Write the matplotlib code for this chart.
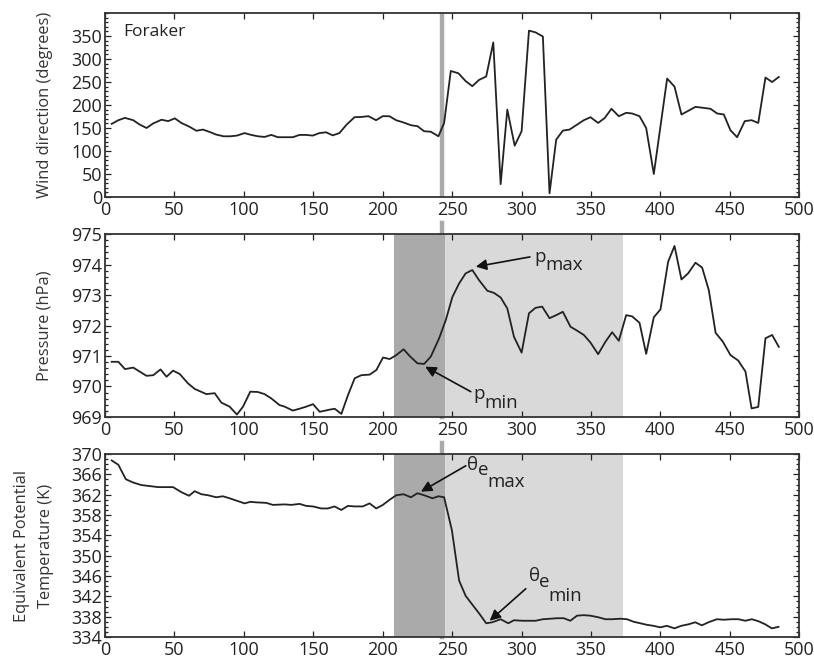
import numpy as np
from matplotlib import pyplot as plt

plt.rcParams['font.family'] = ['Open Sans', 'DejaVu Sans']

# wind direction (degrees)
wd_x = [4.8, 9.6, 14.4, 20.3, 25, 29.9, 34.7, 40.7, 45.5, 50.3, 55, 61, 65.8, 70.5, 75.3, 80.1,
        85.4, 90.2, 95, 100.5, 105.3, 110.1, 114.9, 119.7, 124.5, 130.5, 135.3, 140, 144.8, 149.6,
        154.4, 159.2, 164, 168.8, 174, 179.7, 184.4, 189.7, 195.2, 200, 204.8, 209.6, 214.4, 220.4,
        225, 229.8, 234.6, 240.1, 244.2, 249, 254.5, 259.7, 264.5, 269.3, 274.5, 279.6, 284.9,
        289.7, 295, 300, 305.3, 310, 315.3, 320.1, 324.9, 329.7, 334.5, 340, 344.8, 349.6, 355.1,
        359.9, 364.7, 370, 375.3, 379.6, 384.9, 389.7, 395.2, 400, 404.8, 410.1, 415.1, 420.4,
        425.2, 430.5, 436, 440.8, 445.6, 450.4, 455.2, 460.7, 465.6, 470.4, 475.6, 480.4, 485.2]
wd_y = [159, 167, 172, 167, 157.5, 150, 160, 168, 165, 171, 161, 152.5, 144, 146.6, 141.5, 135.7,
        132, 132, 133.5, 139, 135, 132, 130.6, 135, 130, 130, 130, 135, 135, 133.5,
        139, 140.7, 134, 139, 157.5, 173.5, 174, 175.7, 167, 175.7, 175.7, 167, 162.6, 156,
        154, 143, 142, 132, 161, 274, 269, 252, 241, 254.5, 262, 336, 28,
        190, 111.6, 143, 361.7, 358, 349, 8, 124.7, 144.4, 146.6, 157.5, 167, 173.5, 161,
        172, 191.8, 175.7, 183, 181.6, 175.7, 150, 50, 154, 257.5, 240, 179.4, 188,
        196, 194, 191.8, 181.6, 179.4, 145, 130, 165, 167, 161, 259.7, 250, 261]

# pressure (hPa)
p_x = [4.8, 9.6, 14.4, 20.3, 29.9, 34.7, 40, 44.3, 49, 53.8, 59.8, 64.6, 73, 79, 83.8, 89.7, 95,
       99.4, 104.6, 110, 114.9, 119.7, 125.7, 129.3, 135.3, 140, 145, 149.8, 154.6, 161.7, 165.4,
       170.2, 175, 179.8, 184.6, 190.6, 195.4, 200.2, 205, 209.8, 215, 219.4, 225, 229.8, 234.6,
       240.6, 245.4, 250.2, 255, 259.7, 264.5, 269.3, 275.3, 280.1, 284.9, 289.7, 294.5, 300,
       305.3, 310, 314.8, 320.1, 324.9, 329.7, 335.2, 340, 344.8, 349.6, 355.1, 360.4, 365.2, 370,
       375.3, 379.6, 384.9, 389.7, 395.2, 400, 405.5, 410.1, 415.1, 419.9, 425.2, 430, 434.8,
       439.7, 444.9, 450.4, 456, 461.2, 465.6, 470.4, 475.6, 480.4, 485.2]
p_y = [970.81, 970.81, 970.57, 970.62, 970.35, 970.37, 970.56, 970.32, 970.52, 970.41, 970.1,
       969.92, 969.75, 969.78, 969.47, 969.34, 969.08, 969.34, 969.83, 969.82, 969.75, 969.61,
       969.39, 969.34, 969.21, 969.27, 969.34, 969.42, 969.17, 969.24, 969.27, 969.1, 969.72,
       970.27, 970.37, 970.39, 970.54, 970.95, 970.9, 971.03, 971.22, 971.0, 970.76, 970.74,
       970.98, 971.58, 972.18, 972.94, 973.38, 973.71, 973.82, 973.49, 973.14, 973.07, 972.92,
       972.56, 971.63, 971.11, 972.4, 972.58, 972.62, 972.24, 972.34, 972.45, 971.96, 971.83,
       971.69, 971.44, 971.06, 971.47, 971.78, 971.5, 972.34, 972.3, 972.09, 971.07, 972.27,
       972.53, 974.09, 974.61, 973.51, 973.71, 974.06, 973.9, 973.16, 971.76, 971.47, 971.03,
       970.85, 970.49, 969.28, 969.33, 971.58, 971.69, 971.3]

# equivalent potential temperature (K)
te_x = [4.8, 9.6, 15, 20.3, 26.3, 32.3, 38.3, 49, 55, 60.5, 64.6, 69.4, 74.2, 80.1, 84.9, 89.7,
        100.5, 104.6, 108.9, 116.1, 120.9, 129.3, 134.1, 140.1, 144.9, 149.7, 155.7, 160.5, 165.3,
        170.1, 174.9, 179.7, 185.7, 190.5, 195.3, 200.1, 204.9, 209.7, 215, 220.3, 225, 229.8,
        235.8, 240.1, 244.2, 249.8, 255, 259.7, 265, 269.8, 274.5, 278.9, 284.9, 290.4, 294.5,
        300.5, 305.3, 310.1, 315.3, 320.8, 325.6, 330.3, 335.1, 339.9, 344.7, 349.5, 355, 360.3,
        365.1, 371.1, 375.9, 380.7, 385.5, 390.2, 395, 399.8, 404.6, 410.1, 414.9, 420.2, 425,
        429.8, 434.6, 440.6, 445.4, 451.4, 456.2, 461, 465.8, 470.6, 475.4, 480.2, 485]
te_y = [368.75, 367.9, 365.05, 364.4, 363.9, 363.7, 363.5, 363.5, 362.5, 361.8, 362.7, 362.1,
        361.9, 361.5, 361.7, 361.3, 360.3, 360.6, 360.5, 360.4, 360, 360.1, 360, 360.2, 359.8,
        359.7, 359.3, 359.3, 359.7, 359, 359.8, 359.7, 359.7, 360.3, 359.3, 360, 361, 361.9,
        362.1, 361.5, 362.3, 361.9, 361.3, 361.7, 361.5, 355, 345.1, 342.1, 340.2, 338.5, 336.7,
        336.9, 337.5, 336.7, 337.3, 337.2, 337.2, 337.2, 337.5, 337.6, 337.7, 337.7, 337.2,
        338.2, 338.3, 338.2, 337.9, 337.5, 337.5, 337.6, 337.5, 337, 336.7, 336.4, 336.2, 335.9,
        336.2, 335.7, 336.2, 336.5, 336.9, 336.3, 336.9, 337.5, 337.4, 337.5, 337.5, 337.2,
        337.5, 337.1, 336.5, 335.7, 336]

x_ticks = [0, 50, 100, 150, 200, 250, 300, 350, 400, 450, 500]
line_x = 243
dark_span = (208, 245)
light_span = (245, 373)

fig = plt.figure(figsize=(8.14, 6.58), dpi=100)
L, W = 0.129, 0.853
ax1 = fig.add_axes([L, 0.7006, W, 0.2796])
ax2 = fig.add_axes([L, 0.3663, W, 0.278])
ax3 = fig.add_axes([L, 0.0319, W, 0.278])

def style(ax, yticks, ylim, minor):
    ax.set_xlim(0, 500)
    ax.set_ylim(*ylim)
    ax.set_xticks(x_ticks)
    ax.set_yticks(yticks)
    ax.set_yticks(np.arange(ylim[0], ylim[1] + 1e-9, minor), minor=True)
    ax.tick_params(axis='both', which='both', direction='in', top=True, right=True,
                   labelsize=13, colors='#222222', width=0.9)
    ax.tick_params(axis='x', which='major', length=4, pad=3)
    ax.tick_params(axis='y', which='major', length=4, pad=2)
    ax.tick_params(axis='y', which='minor', length=2.5)
    for s in ax.spines.values():
        s.set_linewidth(1.3)
        s.set_color('#333333')

def label(ax, parts, size=13.5):
    for t, x, y in parts:
        ax.text(x, y, t, fontsize=size, ha='left', va='baseline', color='#222222', zorder=5)

arrow = dict(arrowstyle='-|>', color='#111111', lw=1.2, mutation_scale=16, shrinkA=0, shrinkB=0)

# top: wind direction
ax1.axvline(line_x, color='#aaaaaa', lw=3.2, ymin=-0.02, zorder=1)
ax1.plot(wd_x, wd_y, color='#222222', lw=1.3, zorder=3)
style(ax1, range(0, 351, 50), (0, 400), 10)
ax1.set_ylabel('Wind direction (degrees)', fontsize=11.8, color='#333333')
ax1.yaxis.set_label_coords(-0.075, 0.5)
ax1.text(13, 358, 'Foraker', fontsize=12.5, va='center', ha='left', color='#222222')

# middle: pressure
ax2.axvspan(*dark_span, color='#aaaaaa', lw=0, zorder=0)
ax2.axvspan(*light_span, color='#d9d9d9', lw=0, zorder=0)
ax2.axvline(line_x, color='#aaaaaa', lw=3.2, ymin=0, ymax=1.06, clip_on=False, zorder=1)
ax2.plot(p_x, p_y, color='#222222', lw=1.3, zorder=3)
style(ax2, range(969, 976), (969, 975), 0.2)
ax2.set_ylabel('Pressure (hPa)', fontsize=11.8, color='#333333')
ax2.yaxis.set_label_coords(-0.075, 0.5)
ax2.annotate('', xy=(267, 973.93), xytext=(306, 974.25), arrowprops=arrow)
label(ax2, [('p', 309, 974.07), ('max', 317, 973.82)])
ax2.annotate('', xy=(230.6, 970.65), xytext=(263.4, 969.83), arrowprops=arrow)
label(ax2, [('p', 265, 969.59), ('min', 273, 969.28)])

# bottom: equivalent potential temperature
ax3.axvspan(*dark_span, color='#aaaaaa', lw=0, zorder=0)
ax3.axvspan(*light_span, color='#d9d9d9', lw=0, zorder=0)
ax3.axvline(line_x, color='#aaaaaa', lw=3.2, ymin=0, ymax=1.06, clip_on=False, zorder=1)
ax3.plot(te_x, te_y, color='#222222', lw=1.3, zorder=3)
style(ax3, range(334, 371, 4), (334, 370), 1)
ax3.set_ylabel('Equivalent Potential\nTemperature (K)', fontsize=11.8, color='#333333',
               linespacing=1.6)
ax3.yaxis.set_label_coords(-0.074, 0.5)
ax3.annotate('', xy=(227.5, 362.6), xytext=(259.8, 367.7), arrowprops=arrow)
label(ax3, [('θ', 261, 366.9), ('e', 268.5, 365.9), ('max', 275.5, 363.6)])
ax3.annotate('', xy=(277, 337.2), xytext=(303, 343.5), arrowprops=arrow)
label(ax3, [('θ', 305, 345.1), ('e', 312.5, 343.8), ('min', 319.5, 341.1)])

fig.savefig('out.png', dpi=100)
